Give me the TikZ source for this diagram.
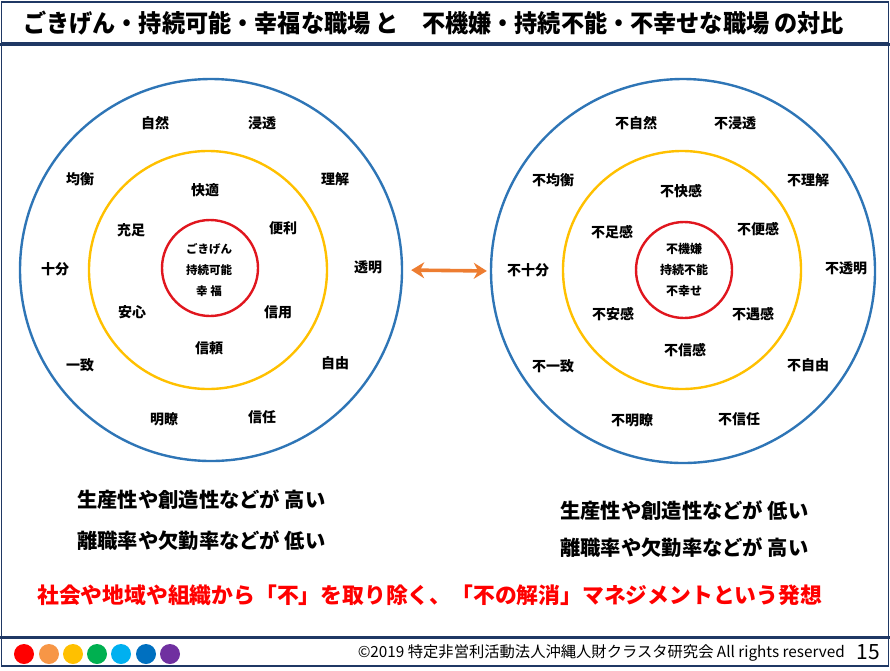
\documentclass[tikz,border=0pt]{standalone}
\usepackage{fontspec}
\setmainfont{Noto Sans CJK JP}
\usetikzlibrary{arrows.meta}
\definecolor{navy}{HTML}{1F3864}
\definecolor{oblue}{HTML}{2E75B6}
\definecolor{oyel}{HTML}{FFC000}
\definecolor{ored}{HTML}{E0161E}
\definecolor{oarrow}{HTML}{ED7D31}
\definecolor{c1}{HTML}{FF0000}
\definecolor{c2}{HTML}{F79646}
\definecolor{c3}{HTML}{FFC000}
\definecolor{c4}{HTML}{00B050}
\definecolor{c5}{HTML}{00B0F0}
\definecolor{c6}{HTML}{0070C0}
\definecolor{c7}{HTML}{7030A0}
\tikzset{
  lab/.style={font=\fontsize{14}{16}\selectfont\bfseries, inner sep=0pt},
  ctr/.style={font=\fontsize{11.5}{21}\selectfont\bfseries, align=center, inner sep=0pt},
  ring/.style={circle, draw, line width=2.4pt, inner sep=0pt},
  big/.style={font=\fontsize{20.3}{22}\selectfont\bfseries, inner sep=0pt, anchor=west},
  frame/.style={draw=navy, line width=1.5pt},
  dot/.style={circle, inner sep=0pt, minimum size=20pt},
}
\begin{document}
\begin{tikzpicture}[x=1pt, y=-1pt]
\useasboundingbox (0,0) rectangle (890,670);
% frames
\draw[frame] (1.5,2) rectangle (888.5,43);
\draw[navy, line width=3pt] (0,44) -- (890,44);
\draw[frame] (1.5,45) rectangle (888.5,637);
\draw[navy, line width=2.5pt] (0,637.5) -- (890,637.5);
\draw[frame] (1.5,637.5) rectangle (888.5,666);
% title
\node[font=\fontsize{24.5}{26}\selectfont\bfseries, anchor=west, inner sep=0pt] (title) at (23,23)
  {\scalebox{0.945}[1]{ごきげん・持続可能・幸福な職場 と　不機嫌・持続不能・不幸せな職場 の対比}};
% left rings
\node[ring, draw=oblue, minimum size=382pt] (LO) at (211,270) {};
\node[ring, draw=oyel, minimum size=238pt] (LY) at (208,270) {};
\node[ring, draw=ored, minimum size=96pt] (LR) at (210,268) {};
\node[ctr] (Lc) at (209,270) {ごきげん\\持続可能\\幸 福};
\node[lab] (l1) at (155,123) {自然};
\node[lab] (l2) at (262,123) {浸透};
\node[lab] (l3) at (80,179) {均衡};
\node[lab] (l4) at (335,179) {理解};
\node[lab] (l5) at (55,269) {十分};
\node[lab] (l6) at (368,267) {透明};
\node[lab] (l7) at (80,365) {一致};
\node[lab] (l8) at (335,363) {自由};
\node[lab] (l9) at (164,419) {明瞭};
\node[lab] (l10) at (262,417) {信任};
\node[lab] (m1) at (205,190) {快適};
\node[lab] (m2) at (131,230) {充足};
\node[lab] (m3) at (283,228) {便利};
\node[lab] (m4) at (132,312) {安心};
\node[lab] (m5) at (278,312) {信用};
\node[lab] (m6) at (209,348) {信頼};
% right rings
\node[ring, draw=oblue, minimum size=384pt] (RO) at (683,271) {};
\node[ring, draw=oyel, minimum size=238pt] (RY) at (682,270) {};
\node[ring, draw=ored, minimum size=96pt] (RR) at (684,270) {};
\node[ctr, font=\fontsize{12}{21}\selectfont\bfseries] (Rc) at (684,270) {不機嫌\\持続不能\\不幸せ};
\node[lab] (r1) at (636,123) {不自然};
\node[lab] (r2) at (735,123) {不浸透};
\node[lab] (r3) at (553,180) {不均衡};
\node[lab] (r4) at (808,180) {不理解};
\node[lab] (r5) at (528,270) {不十分};
\node[lab] (r6) at (846,268) {不透明};
\node[lab] (r7) at (553,366) {不一致};
\node[lab] (r8) at (808,365) {不自由};
\node[lab] (r9) at (632,420) {不明瞭};
\node[lab] (r10) at (739,419) {不信任};
\node[lab] (n1) at (681,191) {不快感};
\node[lab] (n2) at (612,232) {不足感};
\node[lab] (n3) at (758,229) {不便感};
\node[lab] (n4) at (613,314) {不安感};
\node[lab] (n5) at (753,314) {不遇感};
\node[lab] (n6) at (685,350) {不信感};
% arrow
\draw[oarrow, line width=3.6pt, {Stealth[length=13pt,width=16pt]}-{Stealth[length=13pt,width=16pt]},
  shorten <=8pt, shorten >=3pt] (LO.east) -- (RO.west);
% bottom texts
\node[big] (b1) at (77,500) {生産性や創造性などが 高い};
\node[big] (b2) at (77,541) {離職率や欠勤率などが 低い};
\node[big] (b3) at (560,511) {生産性や創造性などが 低い};
\node[big] (b4) at (560,548) {離職率や欠勤率などが 高い};
\node[font=\fontsize{21.8}{24}\selectfont\bfseries, text=c1, anchor=west, inner sep=0pt] (red) at (37,595)
  {社会や地域や組織から「不」を取り除く、「不の解消」マネジメントという発想};
% footer
\node[dot, fill=c1] (d1) at (24,654) {};
\node[dot, fill=c2] (d2) at (49,654) {};
\node[dot, fill=c3] (d3) at (73,654) {};
\node[dot, fill=c4] (d4) at (97,654) {};
\node[dot, fill=c5] (d5) at (121,654) {};
\node[dot, fill=c6] (d6) at (146,654) {};
\node[dot, fill=c7] (d7) at (170,654) {};
\node[font=\fontsize{15.3}{17}\selectfont, anchor=east, inner sep=0pt] (copy) at (845,653)
  {©2019 特定非営利活動法人沖縄人財クラスタ研究会 All rights reserved};
\node[font=\fontsize{21}{22}\selectfont, inner sep=0pt] (page) at (868,652) {15};
\end{tikzpicture}
\end{document}
